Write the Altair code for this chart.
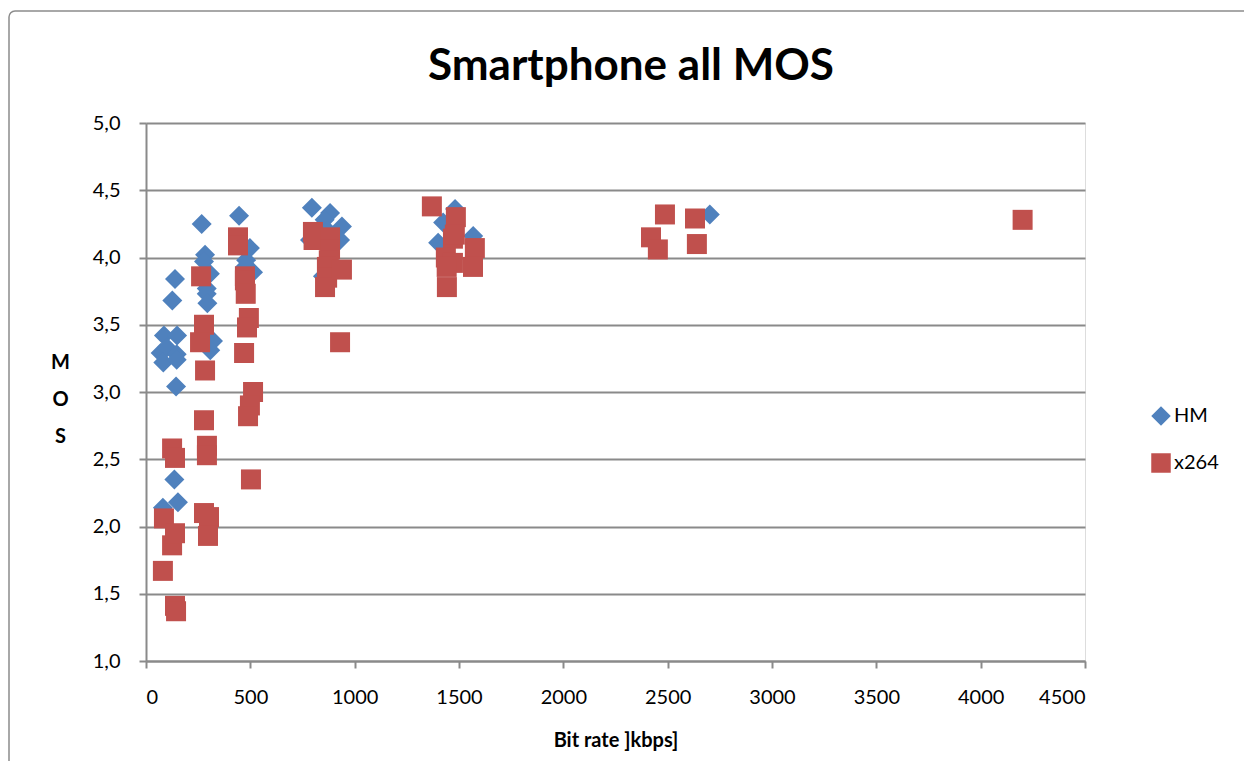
import altair as alt
import pandas as pd

# HM series (bit rate kbps, MOS)
hm_rate = [86, 149, 70, 100, 147, 83, 147, 139, 126, 144, 136, 153, 81,
           267, 283, 278, 306, 291, 291, 294, 321, 308,
           446, 498, 513, 474, 480,
           795, 882, 856, 939, 786, 930, 848, 870,
           1481, 1424, 1400, 1568,
           2702]
hm_mos = [3.42, 3.42, 3.29, 3.33, 3.28, 3.22, 3.24, 3.84, 3.68, 3.04, 2.35, 2.18, 2.14,
          4.25, 4.02, 3.97, 3.88, 3.77, 3.73, 3.66, 3.38, 3.31,
          4.31, 4.07, 3.89, 3.93, 3.98,
          4.37, 4.33, 4.28, 4.23, 4.13, 4.13, 3.86, 4.20,
          4.36, 4.26, 4.11, 4.16,
          4.32]

# x264 series (bit rate kbps, MOS)
x264_rate = [81, 86, 125, 139, 125, 139, 139, 144,
             264, 278, 259, 283, 278, 292, 292, 278, 302, 297,
             441, 441, 474, 474, 478, 493, 484, 470, 513, 498, 489, 503,
             800, 803, 882, 882, 876, 867, 868, 858, 939, 930,
             1370, 1485, 1471, 1480, 1576, 1437, 1471, 1567, 1442, 1441,
             2420, 2453, 2487, 2631, 2640, 4201]
x264_mos = [1.67, 2.06, 1.86, 1.95, 2.58, 2.51, 1.41, 1.37,
            3.86, 3.50, 3.37, 3.16, 2.79, 2.60, 2.53, 2.10, 2.07, 1.93,
            4.15, 4.09, 3.86, 3.83, 3.73, 3.55, 3.48, 3.29, 3.00, 2.90, 2.82, 2.35,
            4.19, 4.13, 4.15, 4.06, 3.98, 3.93, 3.85, 3.78, 3.91, 3.37,
            4.38, 4.30, 4.14, 4.17, 4.07, 4.00, 3.96, 3.93, 3.78, 3.93,
            4.15, 4.06, 4.32, 4.29, 4.10, 4.28]

series_names = ["HM", "x264"]
series_colors = ["#4F81BD", "#C0504D"]
series_shapes = ["diamond", "square"]
x_ticks = [0, 500, 1000, 1500, 2000, 2500, 3000, 3500, 4000, 4500]
y_ticks = [1.0, 1.5, 2.0, 2.5, 3.0, 3.5, 4.0, 4.5, 5.0]
chart_title = "Smartphone all MOS"

df = pd.DataFrame({
    "rate": hm_rate + x264_rate,
    "mos": hm_mos + x264_mos,
    "series": ["HM"] * len(hm_rate) + ["x264"] * len(x264_rate),
})

FONT = "Lato"
GRID = "#8A8A8A"

points = alt.Chart(df).mark_point(filled=True, opacity=1, size=400).encode(
    x=alt.X("rate:Q",
            scale=alt.Scale(domain=[0, 4500], nice=False, zero=False),
            axis=alt.Axis(values=x_ticks, format="d", title="Bit rate ]kbps]", grid=False,
                          domainColor=GRID, domainWidth=2, tickColor=GRID, tickWidth=2,
                          tickSize=7, labelPadding=19, labelFontSize=20, labelColor="#000",
                          labelFont=FONT, titleFont=FONT, titleFontSize=20,
                          titleFontWeight="bold", titleColor="#000", titlePadding=23)),
    y=alt.Y("mos:Q",
            scale=alt.Scale(domain=[1, 5], nice=False, zero=False),
            axis=alt.Axis(values=y_ticks,
                          labelExpr="replace(format(datum.value, '.1f'), '.', ',')",
                          title=["M", "O", "S"], titleAngle=0, titleLineHeight=37,
                          titleX=-86, titleY=239, titleAlign="center", titleBaseline="middle",
                          grid=True, gridColor=GRID, gridWidth=2,
                          domainColor=GRID, domainWidth=2, tickColor=GRID, tickWidth=2,
                          tickSize=7, labelPadding=19, labelFontSize=20, labelColor="#000",
                          labelFont=FONT, titleFont=FONT, titleFontSize=20,
                          titleFontWeight="bold", titleColor="#000")),
    color=alt.Color("series:N",
                    scale=alt.Scale(domain=series_names, range=series_colors),
                    legend=alt.Legend(title=None, orient="none", legendX=1005, legendY=283,
                                      labelFontSize=20, labelFont=FONT, labelColor="#000",
                                      symbolSize=380, rowPadding=27, labelOffset=3,
                                      symbolStrokeWidth=0)),
    shape=alt.Shape("series:N",
                    scale=alt.Scale(domain=series_names, range=series_shapes),
                    legend=None),
    order=alt.Order("series:N"),
)

frame = alt.Chart(pd.DataFrame({"f": [0]})).mark_rect(
    fill=None, stroke="#8C8C8C", strokeWidth=1.5, cornerRadius=6
).encode(
    x=alt.value(-137), x2=alt.value(1130), y=alt.value(-112), y2=alt.value(700)
)

title = alt.Chart(pd.DataFrame({"t": [chart_title]})).mark_text(
    font=FONT, fontSize=44, fontWeight="bold", color="#000",
    align="center", baseline="alphabetic"
).encode(
    text="t:N", x=alt.value(485), y=alt.value(-43)
)

chart = alt.layer(frame, points, title).properties(
    width=939,
    height=538,
    padding={"left": 138, "top": 115, "right": 159, "bottom": 100},
    autosize=alt.AutoSizeParams(type="none"),
).configure_view(stroke=None).configure(background="white")

chart.save("out.html", embed_options={"renderer": "svg", "actions": False})
